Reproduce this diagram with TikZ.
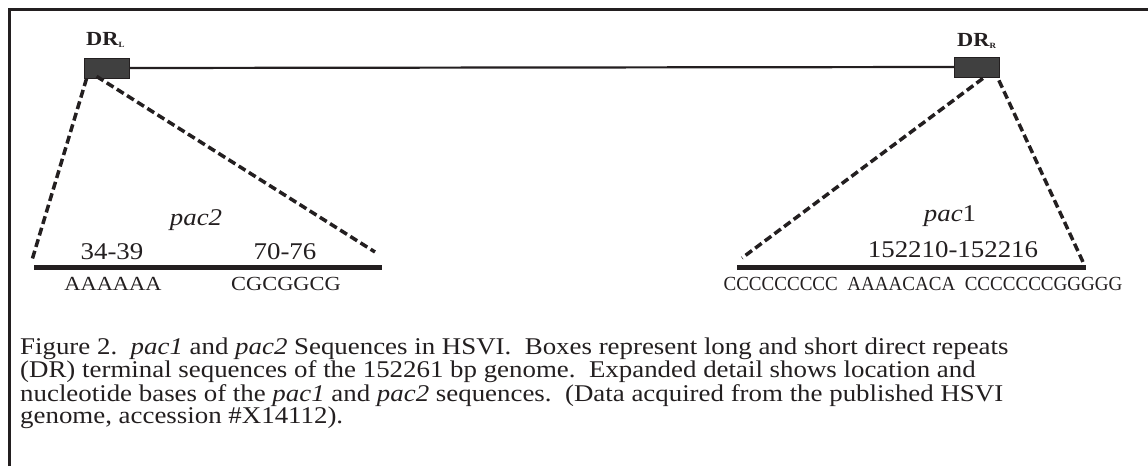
\documentclass[tikz,border=0pt]{standalone}
\usepackage{fontspec}
\setmainfont{Liberation Serif}[FakeStretch=1.12]
\definecolor{ink}{HTML}{231F20}
\definecolor{boxfill}{HTML}{404040}
\tikzset{
  drbox/.style={draw=ink, line width=0.8pt, fill=boxfill, minimum width=45pt, minimum height=20pt, inner sep=0pt},
  zoomline/.style={draw=ink, line width=3.5pt, dash pattern=on 8pt off 4pt},
  seqline/.style={draw=ink, line width=5pt},
  lbl/.style={text=ink, font=\fontsize{24}{24}\selectfont, inner sep=0pt, anchor=base},
  bases/.style={text=ink, font=\fontsize{20}{20}\selectfont, inner sep=0pt, anchor=base},
  drlbl/.style={text=ink, font=\bfseries\fontsize{20}{20}\selectfont, inner sep=0pt, anchor=base west},
}
\begin{document}
\begin{tikzpicture}[x=1pt,y=-1pt]
\useasboundingbox (0,0) rectangle (1148,466);
% frame, only top and left edges show
\draw[ink, line width=3pt] (9.5,466) -- (9.5,9.5) -- (1148,9.5);

% genome with the two direct repeats
\node[drbox] (drl) at (106.5,68) {};
\node[drbox] (drr) at (977,67) {};
\draw[ink, line width=2.2pt] (drl.east) -- (drr.west);
\node[drlbl] (drlname) at (86,45) {DR\raisebox{-2pt}{\fontsize{8}{8}\selectfont L}};
\node[drlbl] (drrname) at (957,46) {DR\raisebox{-2pt}{\fontsize{8}{8}\selectfont R}};

% expanded ends
\coordinate (pac2a) at (34,267);
\coordinate (pac2b) at (382,267);
\coordinate (pac1a) at (737,267);
\coordinate (pac1b) at (1086,267);
\draw[seqline] (pac2a) -- (pac2b);
\draw[seqline] (pac1a) -- (pac1b);
\draw[zoomline] ([xshift=3pt]drl.south west) -- (32,260);
\draw[zoomline] ([xshift=13pt,yshift=2pt]drl.south west) -- (375,252);
\draw[zoomline] ([xshift=-17pt,yshift=-1pt]drr.south east) -- (742,258);
\draw[zoomline] ([xshift=-1pt,yshift=-3pt]drr.south east) -- (1083,262);

% left end, pac2
\node[lbl] (pac2) at (196,225) {\textit{pac2}};
\node[lbl] (pos1) at (112,259) {34-39};
\node[lbl] (pos2) at (285,259) {70-76};
\node[bases] (seq1) at (113,290) {AAAAAA};
\node[bases] (seq2) at (286,290) {CGCGGCG};

% right end, pac1
\node[lbl] (pac1) at (950,221) {\textit{pac}1};
\node[lbl] (pos3) at (953,257) {152210-152216};
\node[bases] (seq3) at (923,290) {\scalebox{0.85}[1]{CCCCCCCCC\ \ AAAACACA\ \ CCCCCCCGGGGG}};

% caption
\node[anchor=north west, inner sep=0pt, align=left, text=ink,
      font=\fontsize{24}{21.5}\selectfont] (caption) at (20,338)
  {Figure 2.\ \ \textit{pac1} and \textit{pac2} Sequences in HSVI.\ \ Boxes represent long and short direct repeats\\
   (DR) terminal sequences of the 152261 bp genome.\ \ Expanded detail shows location and\\
   nucleotide bases of the \textit{pac1} and \textit{pac2} sequences.\ \ (Data acquired from the published HSVI\\
   genome, accession \#X14112).};
\end{tikzpicture}
\end{document}
